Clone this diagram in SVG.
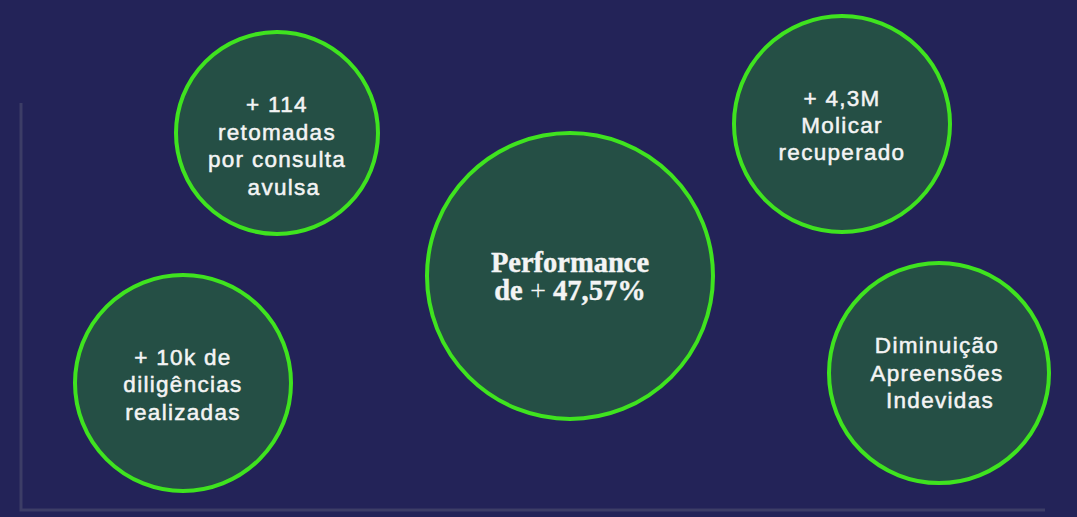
<svg xmlns="http://www.w3.org/2000/svg" width="1077" height="517" viewBox="0 0 1077 517">
<style>
.bg{fill:#232358}
.c{fill:#254f45;stroke:#3fe31f;stroke-width:4}
.t{font-family:"Liberation Sans","Noto Sans",sans-serif;font-size:22.5px;letter-spacing:1.3px;fill:#f4f4f4;stroke:#f4f4f4;stroke-width:0.5px;text-anchor:middle}
.p{font-family:"Liberation Serif","DejaVu Serif",serif;font-size:28.5px;font-weight:bold;fill:#f4f4f4;stroke:#f4f4f4;stroke-width:0.4px;text-anchor:middle}
.ax{stroke:#3c3d66;stroke-width:3;fill:none}
</style>
<rect class="bg" x="0" y="0" width="1077" height="517"/>
<g id="axes">
<path class="ax" d="M21 103 V510 H1045"/>
</g>
<g id="connectors"></g>
<g id="node-retomadas">
<circle class="c" cx="277" cy="133" r="101"/>
<text class="t" x="277" y="112">+ 114</text>
<text class="t" x="277" y="140">retomadas</text>
<text class="t" x="277" y="167">por consulta</text>
<text class="t" x="284" y="195">avulsa</text>
</g>
<g id="node-diligencias">
<circle class="c" cx="183" cy="383" r="108"/>
<text class="t" x="183" y="365">+ 10k de</text>
<text class="t" x="183" y="392">diligências</text>
<text class="t" x="183" y="420">realizadas</text>
</g>
<g id="node-performance">
<circle class="c" cx="570" cy="276" r="143"/>
<text class="p" x="570" y="272">Performance</text>
<text class="p" x="570" y="300">de <tspan font-weight="normal" stroke-width="0">+</tspan> 47,57%</text>
</g>
<g id="node-molicar">
<circle class="c" cx="842" cy="124" r="108"/>
<text class="t" x="842" y="106">+ 4,3M</text>
<text class="t" x="842" y="133">Molicar</text>
<text class="t" x="842" y="160">recuperado</text>
</g>
<g id="node-apreensoes">
<circle class="c" cx="939" cy="373" r="110"/>
<text class="t" x="937" y="353">Diminuição</text>
<text class="t" x="937" y="381">Apreensões</text>
<text class="t" x="940" y="408">Indevidas</text>
</g>
</svg>
